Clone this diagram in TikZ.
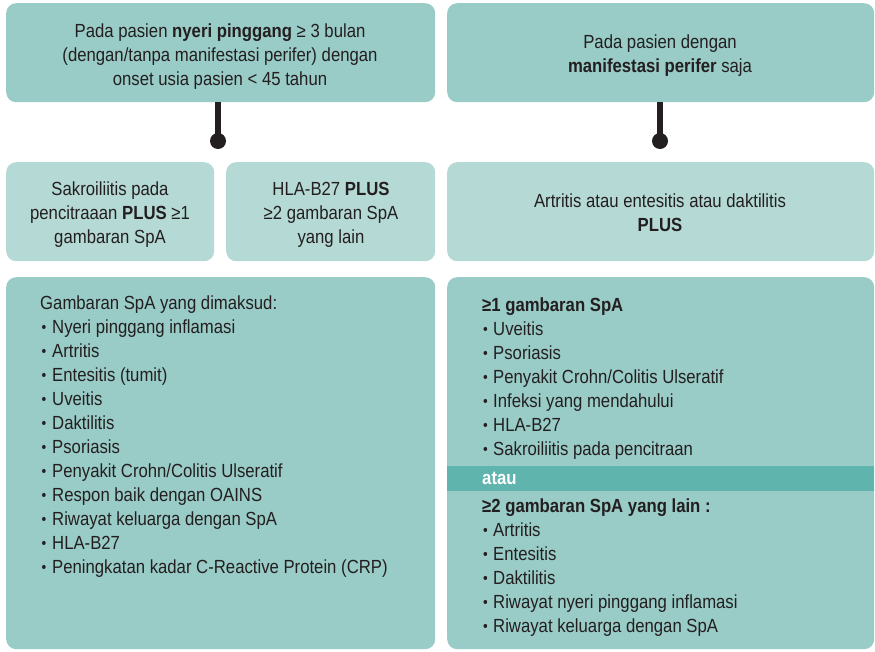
\documentclass[tikz,border=0pt]{standalone}
\usepackage{fontspec}
\setmainfont[FakeStretch=0.88]{Liberation Sans}
\definecolor{tealA}{HTML}{99CBC7}
\definecolor{tealB}{HTML}{B5D9D5}
\definecolor{tealC}{HTML}{5FB5AD}
\definecolor{ink}{HTML}{231F20}
\newcommand\bulL{\makebox[12pt][l]{\hspace{1.5pt}\raisebox{0.1ex}{\scalebox{0.8}{•}}}}
\newcommand\bulR{\makebox[11pt][l]{\hspace{1pt}\raisebox{0.1ex}{\scalebox{0.8}{•}}}}
\begin{document}
\begin{tikzpicture}[x=1pt,y=-1pt,
  box/.style={fill=tealA, draw=none, rounded corners=10pt, inner sep=0pt, anchor=north west},
  lightbox/.style={box, fill=tealB},
  bandbox/.style={fill=tealC, draw=none, inner sep=0pt, anchor=north west},
  txt/.style={font=\fontsize{19}{24}\selectfont, text=ink, inner sep=0pt, anchor=base},
  ltxt/.style={txt, anchor=base west},
  conn/.style={draw=ink, line width=6.5pt},
  dot/.style={fill=ink}
]
\useasboundingbox (0,0) rectangle (875,651);

% boxes
\node[box, minimum width=429pt, minimum height=99pt] (top1) at (6,3) {};
\node[box, minimum width=427pt, minimum height=99pt] (top2) at (447,3) {};
\node[lightbox, minimum width=208pt, minimum height=99pt] (midA) at (6,162) {};
\node[lightbox, minimum width=209pt, minimum height=99pt] (midB) at (226,162) {};
\node[lightbox, minimum width=427pt, minimum height=99pt] (midC) at (447,162) {};
\node[box, minimum width=429pt, minimum height=372pt] (bot1) at (6,277) {};
\node[box, minimum width=427pt, minimum height=372pt] (bot2) at (447,277) {};
\node[bandbox, minimum width=427pt, minimum height=25pt] (band) at (447,466) {};

% connectors
\coordinate (d1) at (218,141);
\coordinate (d2) at (660,141);
\draw[conn] (top1.south -| d1) -- (d1);
\draw[conn] (top2.south -| d2) -- (d2);
\fill[dot] (d1) circle[radius=8pt];
\fill[dot] (d2) circle[radius=8pt];

% top texts
\node[txt] (t1a) at (220,37) {Pada pasien \textbf{nyeri pinggang} ≥ 3 bulan};
\node[txt] (t1b) at (220,61) {(dengan/tanpa manifestasi perifer) dengan};
\node[txt] (t1c) at (220,85) {onset usia pasien < 45 tahun};
\node[txt] (t2a) at (660,48) {Pada pasien dengan};
\node[txt] (t2b) at (660,72) {\textbf{manifestasi perifer} saja};

% middle texts
\node[txt] (mAa) at (110,195) {Sakroiliitis pada};
\node[txt] (mAb) at (110,219) {pencitraaan \textbf{PLUS} ≥1};
\node[txt] (mAc) at (110,243) {gambaran SpA};
\node[txt] (mBa) at (331,195) {HLA-B27 \textbf{PLUS}};
\node[txt] (mBb) at (331,219) {≥2 gambaran SpA};
\node[txt] (mBc) at (331,243) {yang lain};
\node[txt] (mCa) at (660,207) {Artritis atau entesitis atau daktilitis};
\node[txt] (mCb) at (660,231) {\textbf{PLUS}};

% left list
\node[ltxt] (L0) at (40,309.5) {Gambaran SpA yang dimaksud:};
\foreach \s [count=\i from 1] in {
  Nyeri pinggang inflamasi, Artritis, Entesitis (tumit), Uveitis,
  Daktilitis, Psoriasis, Penyakit Crohn/Colitis Ulseratif,
  Respon baik dengan OAINS, Riwayat keluarga dengan SpA, HLA-B27,
  Peningkatan kadar C-Reactive Protein (CRP)}
  \node[ltxt] (L\i) at (40,309.5+24*\i) {\bulL\s};

% right list
\node[ltxt] (R0) at (482,311) {\textbf{≥1 gambaran SpA}};
\foreach \s [count=\i from 1] in {Uveitis, Psoriasis,
  Penyakit Crohn/Colitis Ulseratif, Infeksi yang mendahului,
  HLA-B27, Sakroiliitis pada pencitraan}
  \node[ltxt] (R\i) at (482,311+24*\i) {\bulR\s};
\node[ltxt, text=white] (atau) at (482,484) {\textbf{atau}};
\node[ltxt] (S0) at (482,512) {\textbf{≥2 gambaran SpA yang lain :}};
\foreach \s [count=\i from 1] in {Artritis, Entesitis, Daktilitis,
  Riwayat nyeri pinggang inflamasi, Riwayat keluarga dengan SpA}
  \node[ltxt] (S\i) at (482,512+24*\i) {\bulR\s};
\end{tikzpicture}
\end{document}
